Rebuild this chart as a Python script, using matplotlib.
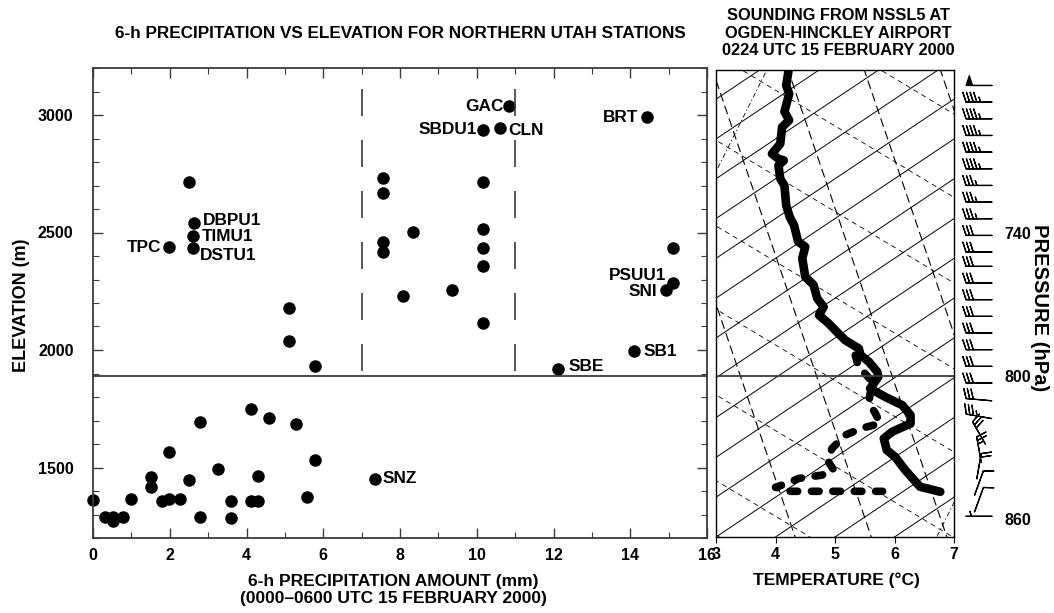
import numpy as np
import matplotlib.pyplot as plt
from matplotlib.ticker import MultipleLocator

plt.rcParams['font.family'] = ['Liberation Sans', 'DejaVu Sans']
plt.rcParams['font.weight'] = 'bold'

# labelled stations: precipitation (mm), elevation (m)
label_names = ['GAC', 'SBDU1', 'CLN', 'BRT', 'DBPU1', 'TIMU1', 'DSTU1', 'TPC',
               'PSUU1', 'SNI', 'SB1', 'SBE', 'SNZ']
label_precip = [10.85, 10.16, 10.61, 14.44, 2.62, 2.60, 2.60, 1.99,
                15.11, 14.92, 14.11, 12.13, 7.35]
label_elev = [3037, 2937, 2943, 2990, 2542, 2485, 2436, 2438,
              2284, 2256, 1995, 1921, 1452]
# text offsets (points) for the labels
label_dx = [-4, -4.3, 5.8, -6.3, 6.8, 6.5, 5.3, -5.5, -4.8, -6, 6.3, 7, 5.5]
label_dy = [0, 0, -1.7, 0, 1.5, 0, -5.5, 0, 5.3, -1, 0, 1.7, 0]

# other stations
other_precip = [2.51, 5.10, 7.57, 7.57, 7.57, 7.57, 8.08, 10.16, 8.35, 10.16,
                10.16, 10.16, 9.35, 15.11, 10.15, 5.10, 5.79, 4.11, 4.59, 5.30,
                2.79, 1.99, 5.79, 3.27, 1.51, 4.31, 1.51, 2.51, 0.0, 0.99,
                1.79, 1.99, 2.27, 3.60, 4.11, 4.31, 5.57, 0.31, 0.51, 0.51,
                0.79, 2.79, 3.60]
other_elev = [2713, 2180, 2731, 2666, 2460, 2417, 2230, 2713, 2502, 2514,
              2436, 2358, 2254, 2436, 2115, 2038, 1931, 1750, 1710, 1686,
              1692, 1564, 1532, 1493, 1461, 1464, 1416, 1446, 1361, 1368,
              1356, 1368, 1368, 1356, 1356, 1356, 1376, 1291, 1291, 1274,
              1291, 1291, 1284]

# sounding: temperature and dewpoint (skewed deg C) vs pressure (hPa)
temp_p = [671.6, 678, 681.5, 689, 692.6, 695.5, 702.5, 706.7, 708.8, 709.5,
          711.6, 717.2, 720, 728.4, 733.3, 736.6, 743.6, 745.8, 750.6, 758.4,
          761.8, 767.4, 771, 774.5, 777.9, 781.5, 785, 788.5, 791.3, 794.1,
          798.3, 800.4, 803.2, 805.3, 808.8, 812.3, 816.5, 820, 823.5, 826.3,
          831.2, 834, 839.6, 846.6, 848.7]
temp_t = [4.22, 4.18, 4.23, 4.15, 4.23, 4.11, 4.08, 3.94, 4.05, 4.14,
          4.05, 4.08, 4.15, 4.18, 4.24, 4.31, 4.38, 4.50, 4.45, 4.50,
          4.64, 4.70, 4.81, 4.73, 4.89, 5.03, 5.17, 5.40, 5.43, 5.57,
          5.71, 5.73, 5.65, 5.59, 5.84, 6.13, 6.27, 6.27, 5.96, 5.82,
          5.87, 6.01, 6.18, 6.43, 6.77]
dew_p = [791.3, 796.8, 798.3, 803.2, 807.4, 811.6, 815.8, 820, 822, 824.9,
         830.5, 835.4, 839.6, 841.7, 843.1, 845.2, 846.8, 848.5, 848.5]
dew_t = [5.34, 5.40, 5.48, 5.65, 5.59, 5.57, 5.68, 5.76, 5.45, 5.17,
         4.95, 4.87, 4.98, 4.78, 4.39, 4.19, 4.00, 4.25, 5.80]

# wind barbs: pressure (hPa), speed (kt), direction (deg)
barb_p = [678, 685, 692, 699, 706, 713, 720, 727, 734, 741, 748, 754, 761, 768,
          775, 782, 789, 796, 803, 810, 817, 824, 831, 838, 845, 852, 859]
barb_spd = [50, 45, 45, 45, 45, 45, 35, 35, 35, 30, 30, 30, 30, 30,
            30, 30, 30, 30, 30, 30, 35, 30, 25, 20, 10, 10, 5]
barb_dir = [270, 270, 270, 270, 270, 270, 270, 270, 270, 270, 270, 270, 270, 270,
            270, 270, 270, 270, 270, 275, 280, 330, 350, 10, 20, 20, 270]

# skew-T background line families
iso_base = list(range(-10, 8))          # isotherms, value at panel bottom
dry_base = [1.78, 3.05, 4.33, 5.61, 6.88, 8.16, 9.44]
moist_base = [558, 594, 630, 665, 701, 737, 772, 808, 844, 880]
mix_base = [-0.07, 6.71]

W, H = 1054, 613


def box(l, t, r, b):
    return [l / W, 1 - b / H, (r - l) / W, (b - t) / H]


fig = plt.figure(figsize=(W / 100, H / 100), dpi=100)

# ---------------- left panel ----------------
ax1 = fig.add_axes(box(93, 68, 707, 538))
ax1.plot(other_precip, other_elev, 'o', color='black', ms=8, clip_on=False)
ax1.plot(label_precip, label_elev, 'o', color='black', ms=8, clip_on=False)
for name, x, y, dx, dy in zip(label_names, label_precip, label_elev, label_dx, label_dy):
    ax1.annotate(name, (x, y), xytext=(dx, dy), textcoords='offset points',
                 ha='left' if dx > 0 else 'right', va='center',
                 fontsize=12.4, fontweight='bold')

ax1.axhline(1890, color='#3a3a3a', lw=1.3)
for xv in [7, 11]:
    ax1.plot([xv, xv], [3200, 1890], color='#3a3a3a', lw=1.2,
             linestyle=(18, (16.2, 14.4)))

ax1.set_xlim(0, 16)
ax1.set_ylim(1200, 3200)
ax1.xaxis.set_major_locator(MultipleLocator(2))
ax1.xaxis.set_minor_locator(MultipleLocator(1))
ax1.yaxis.set_major_locator(MultipleLocator(500))
ax1.yaxis.set_minor_locator(MultipleLocator(100))
ax1.tick_params(which='both', direction='in', top=True, right=True,
                labelsize=11.5, color='#3a3a3a')
ax1.tick_params(which='major', length=7, width=1)
ax1.tick_params(which='minor', length=4, width=0.8)
ax1.tick_params(axis='y', pad=14)
ax1.tick_params(axis='x', pad=7)
for s in ax1.spines.values():
    s.set_color('#3a3a3a')
    s.set_linewidth(1.3)

# ---------------- right panel (sounding) ----------------
ax2 = fig.add_axes(box(716, 70, 954, 537))
p_bot, p_top = 867.7, 671.5
pg = np.linspace(660, 880, 200)
for tb in iso_base:
    ax2.plot(tb + 0.0598 * (p_bot - pg), pg, color='black', lw=0.7)
for xb in dry_base:
    ax2.plot(xb - 0.0136 * (p_bot - pg), pg, color='black', lw=0.8,
             dashes=(8, 4))
for pl in moist_base:
    ax2.plot(3 + (pg - pl) / 15.0, pg, color='black', lw=0.6, dashes=(6, 5))
for xm in mix_base:
    ax2.plot(xm - 0.02 * (pg - p_bot), pg, color='black', lw=0.6,
             linestyle=(0, (6, 3, 1.5, 3)))

ax2.plot(temp_t, temp_p, color='black', lw=6.2, solid_capstyle='round',
         solid_joinstyle='round', zorder=5)
ax2.plot(dew_t, dew_p, color='black', lw=5.5, linestyle=(0, (1.0, 1.8)),
         dash_capstyle='round', zorder=5)
ax2.axhline(800, color='#3a3a3a', lw=1.3, zorder=6)

ax2.set_xlim(3, 7)
ax2.set_ylim(p_bot, p_top)
ax2.set_xticks([3, 4, 5, 6, 7])
ax2.set_yticks([])
ax2.tick_params(axis='x', direction='out', length=4, labelsize=11.5, pad=3)
for s in ax2.spines.values():
    s.set_color('black')
    s.set_linewidth(1.0)

# ---------------- wind barbs ----------------
ax3 = fig.add_axes(box(958, 70, 1000, 537))
rad = np.deg2rad(barb_dir)
u = -np.array(barb_spd) * np.sin(rad)
v = -np.array(barb_spd) * np.cos(rad)
ax3.barbs(np.full(len(barb_p), 0.5), barb_p, u, v, length=6.1, pivot='middle',
          color='black', lw=0.9, sizes=dict(spacing=0.14, height=0.38))
ax3.set_xlim(0, 1)
ax3.set_ylim(p_bot, p_top)
ax3.set_xticks([])
ax3.set_yticks([740, 800, 860])
ax3.yaxis.tick_right()
ax3.tick_params(axis='y', length=0, pad=3, labelsize=11.5)
for s in ax3.spines.values():
    s.set_visible(False)
ax3.patch.set_visible(False)

# ---------------- texts ----------------
fig.text(400 / W, 1 - 33 / H, '6-h PRECIPITATION VS ELEVATION FOR NORTHERN UTAH STATIONS',
         ha='center', va='center', fontsize=12.3, fontweight='bold')
fig.text(838 / W, 1 - 33 / H,
         'SOUNDING FROM NSSL5 AT\nOGDEN-HINCKLEY AIRPORT\n0224 UTC 15 FEBRUARY 2000',
         ha='center', va='center', fontsize=11.8, fontweight='bold', linespacing=1.2)
fig.text(393 / W, 1 - 590 / H,
         '6-h PRECIPITATION AMOUNT (mm)\n(0000\u20130600 UTC 15 FEBRUARY 2000)',
         ha='center', va='center', fontsize=12.5, fontweight='bold', linespacing=1.15)
fig.text(836 / W, 1 - 580 / H, 'TEMPERATURE (\u00b0C)',
         ha='center', va='center', fontsize=12.5, fontweight='bold')
fig.text(22 / W, 1 - 305 / H, 'ELEVATION (m)', rotation=90,
         ha='center', va='center', fontsize=13, fontweight='bold')
fig.text(1040 / W, 1 - 308 / H, 'PRESSURE (hPa)', rotation=-90,
         ha='center', va='center', fontsize=14.5, fontweight='bold')

fig.savefig('out.png', dpi=100)
